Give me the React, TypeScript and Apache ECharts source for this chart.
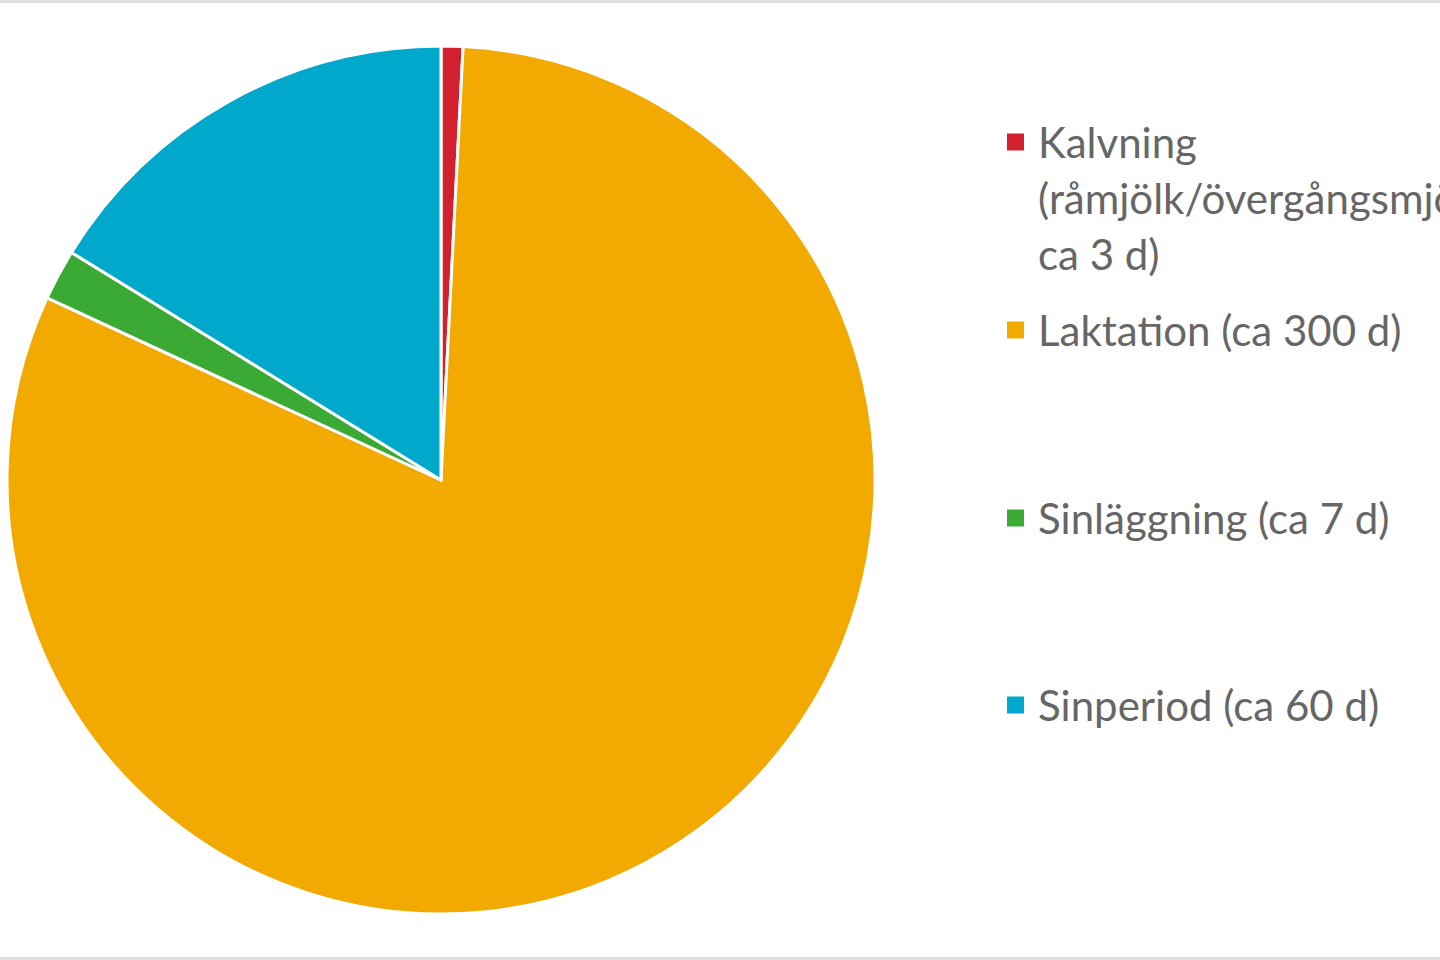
import React, { useEffect, useRef } from "react";
import * as echarts from "echarts";

const names = [
  "Kalvning (råmjölk/övergångsmjölk, ca 3 d)",
  "Laktation (ca 300 d)",
  "Sinläggning (ca 7 d)",
  "Sinperiod (ca 60 d)",
];
const legendLines = [
  ["Kalvning", "(råmjölk/övergångsmjölk,", "ca 3 d)"],
  ["Laktation (ca 300 d)"],
  ["Sinläggning (ca 7 d)"],
  ["Sinperiod (ca 60 d)"],
];
const days = [3, 300, 7, 60];
const colors = ["#D2202F", "#F2A900", "#3AAA35", "#00A8CC"];
const legendRows = [142, 330, 518, 705];

const LINE = 56;

const App: React.FC = () => {
  const chartRef = useRef<HTMLDivElement>(null);

  useEffect(() => {
    let myChart: echarts.ECharts | null = null;
    if (chartRef.current) {
      myChart = echarts.init(chartRef.current, null, { renderer: "svg" });
      myChart.setOption({
        animation: false,
        graphic: [
          { type: "rect", shape: { x: 0, y: 0, width: 1440, height: 3 }, style: { fill: "#dcdedd" } },
          { type: "rect", shape: { x: 0, y: 957, width: 1440, height: 3 }, style: { fill: "#dcdedd" } },
        ],
        legend: names.map((n, i) => {
          // legend text is centred on the icon, so pad with blank lines above
          // to keep the first line of a wrapped label level with the icon
          const lines = legendLines[i];
          const blanks = lines.length - 1;
          const label = "\n".repeat(blanks) + lines.join("\n");
          const total = lines.length + blanks;
          return {
            data: [n],
            left: 1005,
            top: legendRows[i] - (total * LINE) / 2,
            padding: 0,
            selectedMode: false,
            icon: "rect",
            itemWidth: 19,
            itemHeight: 19,
            formatter: () => label,
            textStyle: {
              fontFamily: "Lato",
              fontSize: 42,
              color: "#666666",
              lineHeight: LINE,
              padding: [0, 0, 0, 8],
            },
          };
        }),
        series: [
          {
            type: "pie",
            center: [441, 480],
            radius: 434,
            startAngle: 90,
            clockwise: true,
            label: { show: false },
            labelLine: { show: false },
            emphasis: { disabled: true },
            itemStyle: { borderColor: "#ffffff", borderWidth: 3 },
            data: names.map((n, i) => ({
              name: n,
              value: days[i],
              itemStyle: { color: colors[i] },
            })),
          },
        ],
      });
    }
    return () => {
      if (myChart !== null) {
        myChart.dispose();
      }
    };
  }, []);

  return (
    <div
      ref={chartRef}
      style={{ position: "fixed", left: 0, top: 0, width: 1440, height: 960, background: "#fff" }}
    />
  );
};

export default App;
